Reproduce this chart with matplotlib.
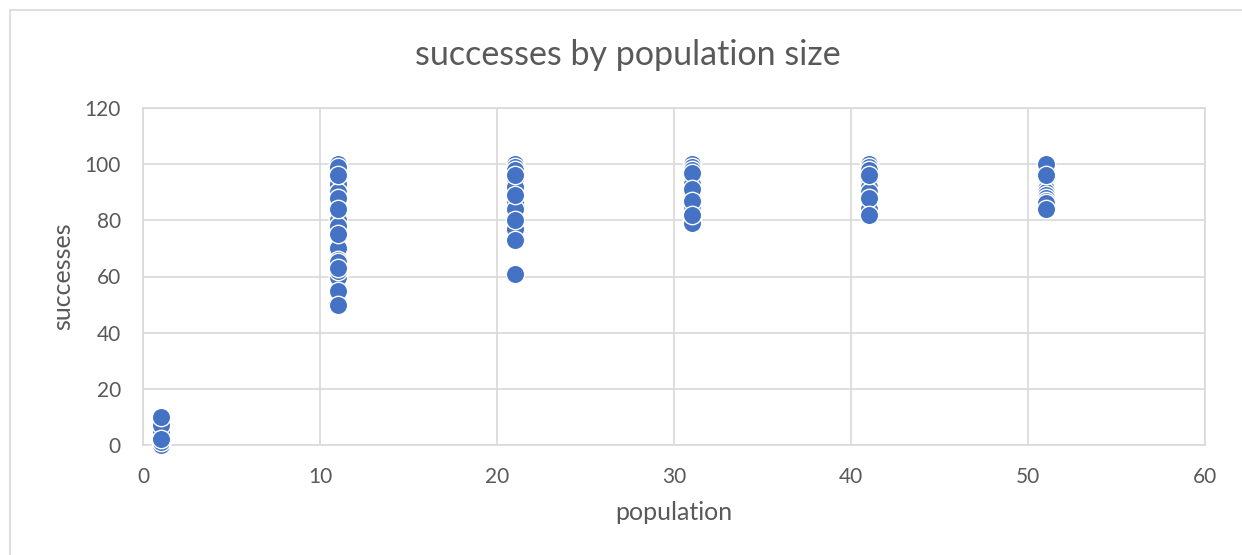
import matplotlib
matplotlib.use("Agg")
import matplotlib.pyplot as plt
from matplotlib.patches import Rectangle

# Success counts observed for each population size
populations = [1, 11, 21, 31, 41, 51]
succ_pop1 = [0, 1, 5, 7, 10, 2]
succ_pop11 = [100, 98, 93, 90, 86, 80, 78, 70, 66, 60, 62, 55, 50, 99, 96, 88, 84, 75, 65, 63]
succ_pop21 = [100, 99, 98, 94, 92, 86, 84, 77, 96, 89, 80, 73, 61]
succ_pop31 = [100, 99, 98, 96, 93, 90, 85, 80, 79, 97, 91, 87, 82]
succ_pop41 = [100, 99, 98, 94, 92, 90, 86, 84, 96, 88, 82]
succ_pop51 = [99, 98, 95, 93, 92, 91, 90, 89, 88, 87, 86, 100, 96, 84]

x_ticks = [0, 10, 20, 30, 40, 50, 60]
y_ticks = [0, 20, 40, 60, 80, 100, 120]

groups = [succ_pop1, succ_pop11, succ_pop21, succ_pop31, succ_pop41, succ_pop51]
xs, ys = [], []
for p, vals in zip(populations, groups):
    xs.extend([p] * len(vals))
    ys.extend(vals)

plt.rcParams["font.family"] = ["Lato", "DejaVu Sans"]
text_color = "#595959"
grid_color = "#D9D9D9"

fig = plt.figure(figsize=(12.42, 5.55), dpi=100)
ax = fig.add_axes([143 / 1242, 1 - 445 / 555, (1205 - 143) / 1242, (445 - 108) / 555])

# chart-area frame
fig.patches.append(Rectangle((10 / 1242, -0.1), 1.2, (1 - 10 / 555) + 0.1,
                             transform=fig.transFigure, fill=False,
                             edgecolor=grid_color, linewidth=1.2, zorder=0))

ax.scatter(xs, ys, s=175, color="#4472C4", edgecolors="white", linewidths=1.0,
           zorder=3, clip_on=False)

ax.set_xlim(0, 60)
ax.set_ylim(0, 120)
ax.set_xticks(x_ticks)
ax.set_yticks(y_ticks)
ax.grid(True, color=grid_color, linewidth=1.2, zorder=0)
ax.set_axisbelow(True)
for sp in ax.spines.values():
    sp.set_color(grid_color)
    sp.set_linewidth(1.2)
ax.tick_params(length=0, labelsize=15, labelcolor=text_color)
ax.tick_params(axis="x", pad=16)
ax.tick_params(axis="y", pad=16)

fig.text(628 / 1242, 1 - 55 / 555, "successes by population size", fontsize=24.5,
         color=text_color, ha="center", va="center")
ax.set_xlabel("population", fontsize=18, color=text_color, labelpad=10)
ax.set_ylabel("successes", fontsize=18, color=text_color, labelpad=7)

fig.savefig("out.png", dpi=100, facecolor="white")
